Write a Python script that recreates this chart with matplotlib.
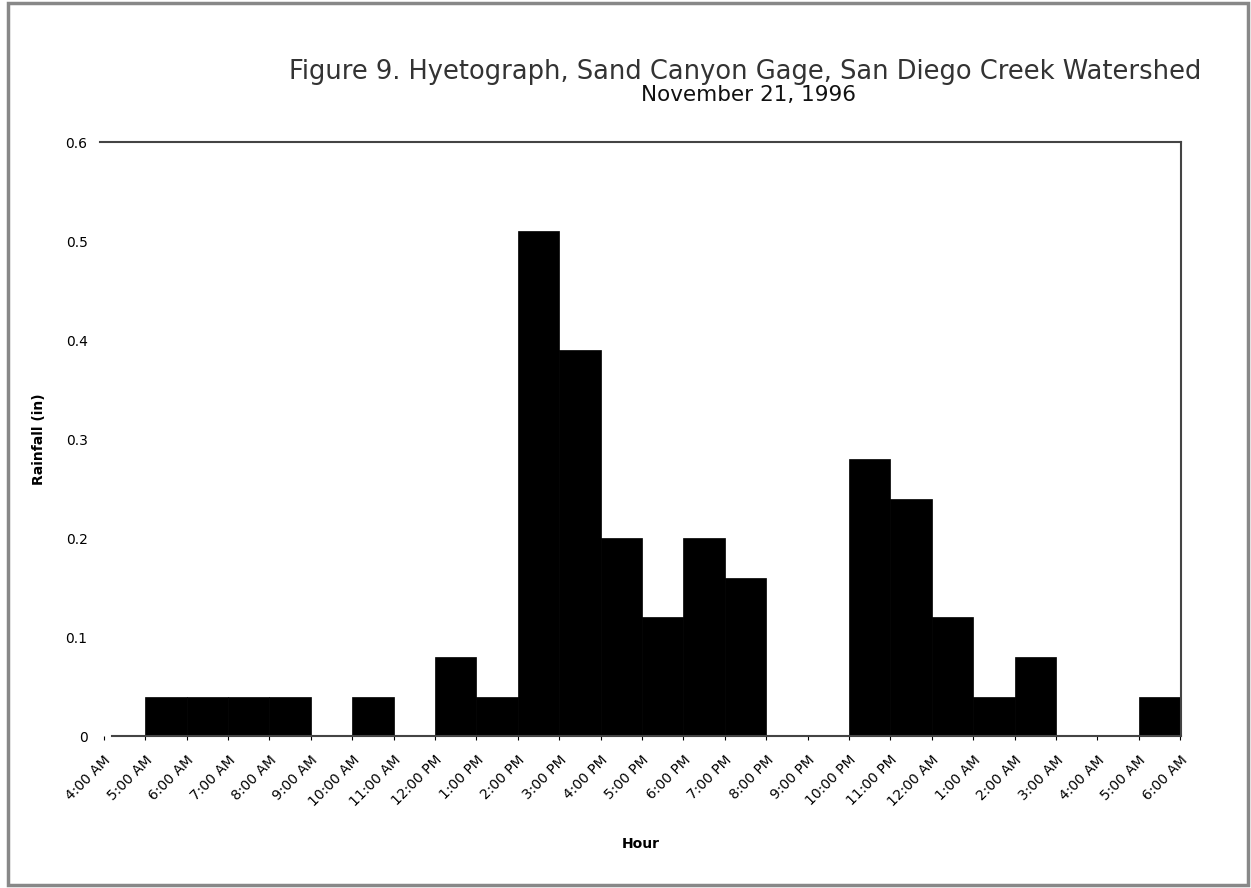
import numpy as np
import matplotlib
matplotlib.use("Agg")
import matplotlib.pyplot as plt
from matplotlib.patches import Rectangle

# Hourly labels, 4:00 AM Nov 21 to 6:00 AM Nov 22
hour_labels = ['4:00 AM', '5:00 AM', '6:00 AM', '7:00 AM', '8:00 AM', '9:00 AM',
               '10:00 AM', '11:00 AM', '12:00 PM', '1:00 PM', '2:00 PM', '3:00 PM',
               '4:00 PM', '5:00 PM', '6:00 PM', '7:00 PM', '8:00 PM', '9:00 PM',
               '10:00 PM', '11:00 PM', '12:00 AM', '1:00 AM', '2:00 AM', '3:00 AM',
               '4:00 AM', '5:00 AM', '6:00 AM']

# Rainfall (in) for each hour interval, starting at 4:00 AM
rainfall = [0.0, 0.04, 0.04, 0.04, 0.04, 0.0, 0.04, 0.0, 0.08, 0.04,
            0.51, 0.39, 0.20, 0.12, 0.20, 0.16, 0.0, 0.0,
            0.28, 0.24, 0.12, 0.04, 0.08, 0.0, 0.0, 0.04]

y_ticks = [0, 0.1, 0.2, 0.3, 0.4, 0.5, 0.6]
y_tick_labels = ['0', '0.1', '0.2', '0.3', '0.4', '0.5', '0.6']

fig = plt.figure(figsize=(12.51, 8.88), dpi=100)
ax = fig.add_axes([0.080, 0.171, 0.864, 0.669])

x = np.arange(len(rainfall))
ax.bar(x, rainfall, width=1.0, align='edge', color='black', edgecolor='black', linewidth=0.5)

ax.set_xlim(-0.09, 26.02)
ax.set_ylim(0, 0.6)

# Frame: top and right lines, bottom axis line, no left line
ax.spines['left'].set_visible(False)
for s in ['top', 'right', 'bottom']:
    ax.spines[s].set_color('#444444')
    ax.spines[s].set_linewidth(1.5)
ax.spines['bottom'].set_bounds(0.2, 26.02)

ax.set_yticks(y_ticks)
ax.set_yticklabels(y_tick_labels, fontsize=10)
ax.tick_params(axis='y', length=0, pad=9)

ax.set_xticks(np.arange(len(hour_labels)))
ax.set_xticklabels(hour_labels, rotation=45, ha='right', rotation_mode='anchor', fontsize=10)
ax.tick_params(axis='x', length=3, direction='out', pad=9)

ax.set_ylabel('Rainfall (in)', fontsize=10, fontweight='bold', labelpad=14)
ax.set_xlabel('Hour', fontsize=10, fontweight='bold', labelpad=20)

fig.text(0.596, 0.919, 'Figure 9. Hyetograph, Sand Canyon Gage, San Diego Creek Watershed',
         ha='center', va='center', fontsize=18.5, color='#333333')
fig.text(0.598, 0.893, 'November 21, 1996', ha='center', va='center', fontsize=15.5, color='#111111')

# gray border around the figure
fig.patches.append(Rectangle((0.006, 0.003), 0.992, 0.994, transform=fig.transFigure,
                             fill=False, edgecolor='#888888', linewidth=2.5))

fig.savefig('out.png', dpi=100)
